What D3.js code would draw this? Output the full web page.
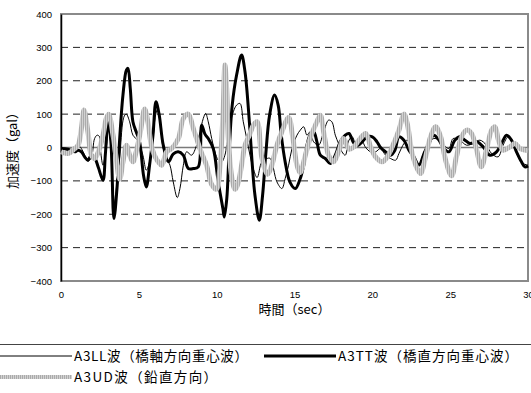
<!DOCTYPE html>
<html>
<head>
<meta charset="utf-8">
<script src="https://cdn.jsdelivr.net/npm/d3@7"></script>
<style>
  body { margin: 0; background: #fff; }
  svg text { font-family: "Liberation Sans", Arial, sans-serif; }
  .jp { font-family: "Noto Sans CJK JP", sans-serif; }
</style>
</head>
<body>
<svg id="chart" width="531" height="393"></svg>
<script>
// time ticks / value ticks
const xTicks = [0, 5, 10, 15, 20, 25, 30];
const yTicks = [-400, -300, -200, -100, 0, 100, 200, 300, 400];

// [sec, gal]
const a3ll = [[0,-3],[0.45,-8],[0.88,-5],[1.09,7],[1.31,-3],[1.52,-23],[1.73,-41],[1.95,-30],[2.16,27],[2.33,37],[2.48,32],[2.55,-13],[2.7,-53],[2.91,0],[3.05,60],[3.2,10],[3.34,-120],[3.45,-170],[3.6,-100],[3.77,-30],[3.98,80],[4.1,97],[4.2,100],[4.41,77],[4.62,37],[4.94,20],[5.26,-23],[5.48,-68],[5.69,-43],[5.91,27],[6.05,90],[6.2,115],[6.36,77],[6.57,-3],[6.79,-33],[7.0,-53],[7.21,-103],[7.47,-150],[7.64,-123],[7.86,-53],[8.07,-13],[8.39,-23],[8.71,7],[8.93,47],[9.14,87],[9.29,102],[9.46,77],[9.68,27],[9.89,-13],[10.1,-38],[10.32,-43],[10.53,-23],[10.75,47],[11.07,107],[11.28,127],[11.5,132],[11.71,77],[11.93,27],[12.14,-23],[12.35,-63],[12.6,-90],[12.9,-43],[13.23,-33],[13.44,-33],[13.87,-103],[14.19,-123],[14.4,-93],[14.62,-53],[14.84,-3],[15.16,37],[15.37,52],[15.59,62],[15.8,37],[16.0,47],[16.23,17],[16.55,7],[16.87,47],[17.19,82],[17.4,77],[17.62,37],[17.83,12],[18.05,-13],[18.26,-23],[18.5,22],[18.71,32],[18.93,12],[19.25,27],[19.57,0],[19.89,-13],[20.21,-13],[20.53,-3],[20.85,-23],[21.17,-33],[21.5,-38],[21.71,-18],[22.03,12],[22.24,22],[22.46,2],[22.78,-38],[22.99,-53],[23.32,-13],[23.63,12],[23.95,27],[24.28,22],[24.6,7],[24.92,-3],[25.19,27],[25.62,22],[26.05,7],[26.48,12],[26.91,22],[27.33,7],[27.66,-18],[28.08,-28],[28.4,7],[28.73,32],[29.05,12],[29.37,-28],[29.69,-48],[30,-53]];

const a3tt = [[0,-3],[0.45,-5],[0.88,-13],[1.09,-8],[1.31,-13],[1.52,-28],[1.73,-38],[1.95,-23],[2.16,-30],[2.4,-60],[2.7,-98],[2.85,-20],[3.02,77],[3.2,20],[3.4,-213],[3.6,-120],[3.77,27],[3.98,157],[4.2,232],[4.3,237],[4.45,177],[4.62,77],[4.83,47],[5.05,17],[5.3,-83],[5.48,-118],[5.69,-53],[5.91,37],[6.1,137],[6.3,100],[6.57,7],[6.9,-43],[7.2,-20],[7.53,-13],[7.85,-23],[8.18,-63],[8.5,-63],[8.82,-58],[9.04,67],[9.25,40],[9.46,27],[9.78,-3],[10.1,-103],[10.4,-183],[10.49,-208],[10.65,-153],[10.79,-23],[11.0,127],[11.28,217],[11.6,277],[11.82,227],[12.1,77],[12.29,-53],[12.46,-143],[12.74,-218],[12.95,-143],[13.15,-23],[13.4,97],[13.72,157],[13.95,127],[14.15,37],[14.4,-43],[14.7,-103],[15.05,-123],[15.37,-93],[15.59,-53],[15.8,7],[16.0,37],[16.23,47],[16.44,17],[16.66,-23],[16.98,-33],[17.3,-48],[17.62,-23],[17.94,17],[18.26,37],[18.5,42],[18.82,12],[19.1,7],[19.35,17],[19.67,32],[20.0,32],[20.3,17],[20.53,0],[20.85,-13],[21.17,-23],[21.45,-8],[21.71,32],[22.03,22],[22.35,-8],[22.67,-28],[22.99,-53],[23.32,-18],[23.63,12],[23.95,37],[24.28,22],[24.6,-3],[24.92,-13],[25.3,22],[25.62,32],[25.95,22],[26.27,12],[26.7,17],[27.12,2],[27.55,-23],[27.98,-13],[28.3,12],[28.62,37],[28.94,22],[29.26,-13],[29.58,-43],[29.8,-58],[30,-55]];

const a3ud = [[0,-13],[0.45,-18],[0.88,-3],[1.1,7],[1.31,57],[1.48,112],[1.73,47],[1.95,-23],[2.16,-33],[2.4,-13],[2.7,37],[2.91,87],[3.06,100],[3.34,37],[3.55,-33],[3.77,-95],[3.98,-43],[4.2,7],[4.41,-23],[4.62,-43],[4.83,-13],[5.1,47],[5.37,115],[5.58,77],[5.8,7],[6.0,-23],[6.25,-43],[6.47,-53],[6.79,-13],[7.11,-3],[7.54,27],[7.86,87],[8.18,100],[8.5,57],[8.71,27],[9.0,-13],[9.35,-53],[9.67,-110],[9.99,-125],[10.2,-63],[10.32,17],[10.43,127],[10.53,247],[10.64,177],[10.75,27],[10.96,-85],[11.18,-125],[11.4,-103],[11.6,-53],[11.82,7],[12.1,37],[12.4,70],[12.6,77],[12.9,-30],[13.27,-80],[13.5,-60],[13.87,7],[14.19,47],[14.62,90],[14.9,27],[15.16,-53],[15.37,-75],[15.7,-23],[16.0,27],[16.44,77],[16.66,97],[16.87,47],[17.19,-23],[17.51,-43],[17.83,-13],[18.15,27],[18.5,-5],[18.82,2],[19.14,22],[19.57,42],[19.89,2],[20.21,-28],[20.64,-43],[20.96,-28],[21.28,2],[21.71,52],[22.03,100],[22.24,72],[22.56,-18],[22.88,-63],[23.1,-78],[23.42,-28],[23.74,32],[24.07,62],[24.39,32],[24.71,-38],[25.09,-85],[25.4,-28],[25.73,32],[26.05,52],[26.37,42],[26.7,-8],[27.0,-58],[27.33,-8],[27.66,52],[27.88,62],[28.1,22],[28.4,-8],[28.84,2],[29.16,12],[29.48,-3],[29.8,-8],[30,-10]];

const seriesNames = ["A3LL波（橋軸方向重心波）", "A3TT波（橋直方向重心波）", "A3UD波（鉛直方向）"];

const margin = {top: 14, right: 3, bottom: 112, left: 61};
const W = 531, H = 393;
const width = W - margin.left - margin.right;
const height = H - margin.top - margin.bottom;

const svg = d3.select("#chart");

// striped light gray for the vertical wave
const defs = svg.append("defs");
const pat = defs.append("pattern")
  .attr("id", "stripe")
  .attr("patternUnits", "userSpaceOnUse")
  .attr("width", 2).attr("height", 4);
pat.append("rect").attr("width", 2).attr("height", 4).attr("fill", "#d2d2d2");
pat.append("rect").attr("width", 1).attr("height", 4).attr("fill", "#ababab");

const g = svg.append("g")
  .attr("transform", `translate(${margin.left},${margin.top})`);

const x = d3.scaleLinear().domain([0, 30]).range([0, width]);
const y = d3.scaleLinear().domain([-400, 400]).range([height, 0]);

// dashed grid
g.append("g")
  .selectAll("line")
  .data(yTicks.filter(d => d !== 0 && Math.abs(d) !== 400))
  .join("line")
  .attr("x1", 0).attr("x2", width)
  .attr("y1", d => y(d)).attr("y2", d => y(d))
  .attr("stroke", "#222")
  .attr("stroke-width", 1)
  .attr("stroke-dasharray", "7,5");

// zero line
g.append("line")
  .attr("x1", 0).attr("x2", width)
  .attr("y1", y(0)).attr("y2", y(0))
  .attr("stroke", "#7a7a7a")
  .attr("stroke-width", 1.5);

// frame
g.append("rect")
  .attr("width", width).attr("height", height)
  .attr("fill", "none")
  .attr("stroke", "#8a8a8a")
  .attr("stroke-width", 2);

// Y axis
const yAxis = g.append("g")
  .call(d3.axisLeft(y).tickValues(yTicks).tickSize(0).tickPadding(9));
yAxis.select(".domain").attr("stroke", "#000").attr("stroke-width", 1.5);
yAxis.selectAll("text").attr("font-size", "9.5px").attr("fill", "#000")
  .style("font-family", "'Liberation Sans', Arial, sans-serif");

// X axis
const xAxis = g.append("g")
  .attr("transform", `translate(0,${height})`)
  .call(d3.axisBottom(x).tickValues(xTicks).tickSize(0).tickPadding(10));
xAxis.select(".domain").remove();
xAxis.selectAll("text").attr("font-size", "9.5px").attr("fill", "#000")
  .style("font-family", "'Liberation Sans', Arial, sans-serif");

// axis titles
svg.append("text")
  .attr("class", "jp")
  .attr("transform", `translate(17,${margin.top + y(0)}) rotate(-90)`)
  .attr("text-anchor", "middle")
  .attr("font-size", "13px")
  .text("加速度（gal）");

svg.append("text")
  .attr("class", "jp")
  .attr("x", margin.left + x(15))
  .attr("y", 314)
  .attr("text-anchor", "middle")
  .attr("font-size", "13px")
  .text("時間（sec）");

// lines
const line = d3.line()
  .x(d => x(d[0]))
  .y(d => y(d[1]))
  .curve(d3.curveCatmullRom.alpha(0.5));

const plot = g.append("g");

plot.append("path")
  .datum(a3ll)
  .attr("d", line)
  .attr("fill", "none")
  .attr("stroke", "#000")
  .attr("stroke-width", 1);

plot.append("path")
  .datum(a3tt)
  .attr("d", line)
  .attr("fill", "none")
  .attr("stroke", "#000")
  .attr("stroke-width", 3)
  .attr("stroke-linejoin", "round");

plot.append("path")
  .datum(a3ud)
  .attr("d", line)
  .attr("fill", "none")
  .attr("stroke", "url(#stripe)")
  .attr("stroke-width", 5)
  .attr("stroke-linejoin", "round");

// legend
svg.append("line")
  .attr("x1", 0).attr("x2", W)
  .attr("y1", 344.5).attr("y2", 344.5)
  .attr("stroke", "#444");

const legendItems = [
  {name: seriesNames[0], x: 0, y: 356, stroke: "#000", w: 1, len: 174},
  {name: seriesNames[1], x: 264, y: 356, stroke: "#000", w: 3, len: 180},
  {name: seriesNames[2], x: 0, y: 377, stroke: "url(#stripe)", w: 4, len: 143}
];

const leg = svg.append("g")
  .selectAll("g")
  .data(legendItems)
  .join("g")
  .attr("transform", d => `translate(${d.x},${d.y})`);

leg.append("line")
  .attr("x1", 0).attr("x2", 72)
  .attr("y1", 0).attr("y2", 0)
  .attr("stroke", d => d.stroke)
  .attr("stroke-width", d => d.w);

leg.append("text")
  .attr("class", "jp")
  .attr("x", 74)
  .attr("y", 0)
  .attr("dy", "0.35em")
  .attr("font-size", "13.5px")
  .attr("textLength", d => d.len)
  .attr("lengthAdjust", "spacing")
  .text(d => d.name);
</script>
</body>
</html>
